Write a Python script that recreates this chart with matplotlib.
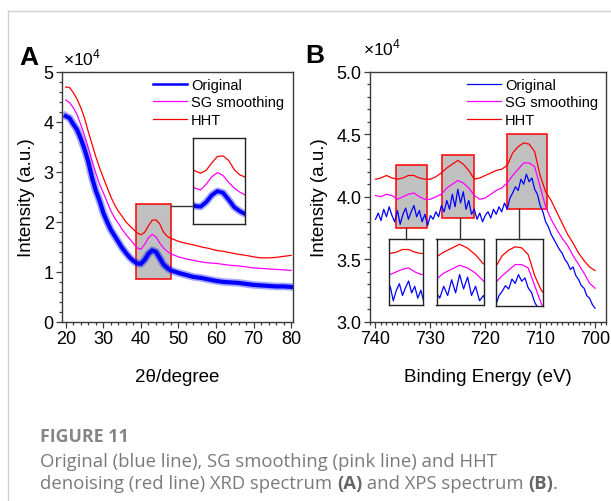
import matplotlib.pyplot as plt
import numpy as np
from matplotlib.lines import Line2D
from matplotlib.patches import Rectangle
from matplotlib.ticker import MultipleLocator, FormatStrFormatter

plt.rcParams['font.family'] = ['Liberation Sans', 'DejaVu Sans']
plt.rcParams['mathtext.fontset'] = 'custom'
plt.rcParams['mathtext.rm'] = 'Liberation Sans'

# ---- XRD spectrum (A), intensity in units of 1e4 ----
xrd_angle = np.concatenate([np.arange(20, 49), np.arange(50, 81, 2)])
xrd_original = [4.11, 4.07, 3.95, 3.84, 3.66, 3.45, 3.20, 2.88, 2.62, 2.42,
                2.18, 2.00, 1.84, 1.72, 1.60, 1.48, 1.38, 1.29, 1.22, 1.17,
                1.16, 1.24, 1.36, 1.43, 1.40, 1.28, 1.15, 1.08, 1.03,
                0.98, 0.94, 0.90, 0.88, 0.85, 0.82, 0.80, 0.79, 0.78, 0.76,
                0.74, 0.73, 0.72, 0.71, 0.71, 0.70]
xrd_sg = [4.43, 4.38, 4.28, 4.14, 3.94, 3.72, 3.48, 3.22, 2.97, 2.75,
          2.58, 2.40, 2.22, 2.08, 1.97, 1.85, 1.75, 1.66, 1.57, 1.48,
          1.45, 1.55, 1.68, 1.75, 1.70, 1.58, 1.48, 1.41, 1.36,
          1.30, 1.26, 1.23, 1.20, 1.18, 1.17, 1.15, 1.13, 1.12, 1.10,
          1.08, 1.07, 1.06, 1.05, 1.04, 1.03]
xrd_hht = [4.69, 4.68, 4.58, 4.45, 4.28, 4.07, 3.80, 3.55, 3.30, 3.08,
           2.88, 2.69, 2.50, 2.34, 2.21, 2.11, 2.00, 1.92, 1.85, 1.78,
           1.74, 1.79, 1.92, 2.03, 2.04, 1.96, 1.80, 1.71, 1.67,
           1.61, 1.57, 1.54, 1.50, 1.47, 1.43, 1.41, 1.38, 1.35, 1.33,
           1.30, 1.28, 1.28, 1.29, 1.31, 1.33]
# zoom window (x0, x1, y0, y1)
xrd_window = (38.7, 47.9, 0.86, 2.35)

# ---- XPS spectrum (B) ----
xps_energy_fine = np.arange(740, 699.9, -0.5)
xps_original = [3.82, 3.87, 3.81, 3.90, 3.84, 3.92, 3.85, 3.80, 3.89, 3.78,
                3.86, 3.91, 3.82, 3.88, 3.93, 3.84, 3.89, 3.80, 3.86, 3.77,
                3.85, 3.82, 3.88, 3.84, 3.93, 3.88, 3.97, 3.90, 4.02, 3.92,
                4.06, 3.95, 4.04, 3.90, 3.97, 3.86, 3.90, 3.82, 3.87, 3.80,
                3.85, 3.88, 3.83, 3.90, 3.86, 3.92, 3.88, 3.95, 3.90, 3.99,
                4.03, 4.08, 4.05, 4.14, 4.10, 4.18, 4.12, 4.15, 4.06, 4.02,
                3.93, 3.88, 3.80, 3.76, 3.70, 3.66, 3.62, 3.58, 3.55, 3.50,
                3.47, 3.42, 3.44, 3.37, 3.34, 3.29, 3.27, 3.21, 3.19, 3.14,
                3.11]
xps_energy = np.arange(740, 699.5, -1)
xps_sg = [4.01, 4.00, 4.02, 4.01, 3.98, 4.00, 4.02, 4.03, 4.00, 3.98,
          3.98, 4.00, 4.02, 4.07, 4.10, 4.13, 4.11, 4.07, 4.01, 3.98,
          3.99, 4.02, 4.05, 4.07, 4.11, 4.17, 4.22, 4.27, 4.27, 4.24,
          4.08, 3.92, 3.82, 3.74, 3.67, 3.61, 3.53, 3.46, 3.39, 3.31,
          3.27]
xps_hht = [4.14, 4.15, 4.17, 4.15, 4.14, 4.15, 4.17, 4.17, 4.15, 4.14,
           4.14, 4.16, 4.19, 4.23, 4.26, 4.29, 4.26, 4.21, 4.14, 4.15,
           4.17, 4.19, 4.21, 4.22, 4.25, 4.35, 4.40, 4.43, 4.42, 4.36,
           4.17, 4.04, 3.97, 3.88, 3.79, 3.70, 3.63, 3.55, 3.49, 3.44,
           3.41]
xps_windows = [(736.2, 730.6, 3.75, 4.25),
               (727.9, 722.0, 3.83, 4.33),
               (716.0, 708.8, 3.90, 4.50)]

BLUE, PINK, RED = '#0000ff', '#ff00ff', '#ff0000'
W, H = 611, 502


def fig_rect(left, top, right, bottom):
    """Pixel box -> figure fraction rect."""
    return [left / W, (H - bottom) / H, (right - left) / W, (bottom - top) / H]


def draw_xrd(ax, lw_blue=3.0):
    # noisy raw pattern: solid core with a soft halo
    ax.plot(xrd_angle, xrd_original, color=BLUE, lw=lw_blue + 2.5, alpha=0.35,
            solid_joinstyle='round')
    ax.plot(xrd_angle, xrd_original, color=BLUE, lw=lw_blue,
            solid_joinstyle='round')
    ax.plot(xrd_angle, xrd_sg, color=PINK, lw=0.9)
    ax.plot(xrd_angle, xrd_hht, color=RED, lw=0.9)


def draw_xps(ax):
    ax.plot(xps_energy_fine, xps_original, color=BLUE, lw=0.9)
    ax.plot(xps_energy, xps_sg, color=PINK, lw=0.9)
    ax.plot(xps_energy, xps_hht, color=RED, lw=0.9)


def add_legend(ax, x_anchor, blue_lw):
    handles = [Line2D([], [], color=BLUE, lw=blue_lw),
               Line2D([], [], color=PINK, lw=0.9),
               Line2D([], [], color=RED, lw=0.9)]
    ax.legend(handles, ['Original', 'SG smoothing', 'HHT'], loc='upper left',
              bbox_to_anchor=(x_anchor, 0.975), frameon=False, fontsize=10.5,
              handlelength=2.3, handletextpad=0.3, labelspacing=0.25,
              borderpad=0, borderaxespad=0)


def style_axes(ax):
    for s in ax.spines.values():
        s.set_color('#3a3a3a')
        s.set_linewidth(1.0)
    ax.tick_params(which='both', direction='out', color='#3a3a3a',
                   labelsize=13, width=0.9, pad=2)
    ax.tick_params(which='major', length=4)
    ax.tick_params(which='minor', length=2.5)


def zoom_box(ax, win):
    x0, x1, y0, y1 = win
    ax.add_patch(Rectangle((min(x0, x1), y0), abs(x1 - x0), y1 - y0,
                           facecolor='#c0c0c0', edgecolor=RED, lw=1.1,
                           zorder=1))


def inset(fig, rect, win, draw, **kw):
    ia = fig.add_axes(rect)
    draw(ia, **kw)
    ia.set_xlim(win[0], win[1])
    ia.set_ylim(win[2], win[3])
    ia.set_xticks([])
    ia.set_yticks([])
    for s in ia.spines.values():
        s.set_color('#222222')
        s.set_linewidth(1.0)
    return ia


fig = plt.figure(figsize=(W / 100, H / 100), dpi=100)

# page frame lines
fig.add_artist(Line2D([8 / W, 8 / W], [0, (H - 12) / H], transform=fig.transFigure,
                      color='#d0d0d0', lw=1))
fig.add_artist(Line2D([8 / W, 1], [(H - 12) / H, (H - 12) / H],
                      transform=fig.transFigure, color='#d0d0d0', lw=1))

# ---- panel A ----
axA = fig.add_axes(fig_rect(62, 72.5, 293, 323))
zoom_box(axA, xrd_window)
draw_xrd(axA)
axA.set_xlim(19, 80.5)
axA.set_ylim(0, 5)
axA.xaxis.set_major_locator(MultipleLocator(10))
axA.xaxis.set_minor_locator(MultipleLocator(2))
axA.yaxis.set_major_locator(MultipleLocator(1))
axA.yaxis.set_minor_locator(MultipleLocator(0.2))
style_axes(axA)
axA.set_xlabel('2θ/degree', fontsize=13.5, labelpad=15)
axA.set_ylabel('Intensity (a.u.)', fontsize=13.5, labelpad=6)
add_legend(axA, 0.394, 1.8)
fig.text(63 / W, (H - 65) / H, r'$\times10^4$', fontsize=12.5)
fig.text(19 / W, (H - 65) / H, 'A', fontsize=19, fontweight='bold')

insA = inset(fig, fig_rect(193.3, 139, 245, 225), xrd_window, draw_xrd,
             lw_blue=2.8)
# connector from zoom window to inset
yconn = (H - 206.5) / H
xstart = fig.transFigure.inverted().transform(
    axA.transData.transform((xrd_window[1], xrd_window[3])))[0]
fig.add_artist(Line2D([xstart, 193.3 / W], [yconn, yconn],
                      transform=fig.transFigure, color='#333333', lw=1))

# ---- panel B ----
axB = fig.add_axes(fig_rect(370, 72.5, 606, 323))
for win in xps_windows:
    zoom_box(axB, win)
draw_xps(axB)
axB.set_xlim(741, 698)
axB.set_ylim(3.0, 5.0)
axB.xaxis.set_major_locator(MultipleLocator(10))
axB.xaxis.set_minor_locator(MultipleLocator(1))
axB.yaxis.set_major_locator(MultipleLocator(0.5))
axB.yaxis.set_minor_locator(MultipleLocator(0.1))
axB.yaxis.set_major_formatter(FormatStrFormatter('%.1f'))
style_axes(axB)
axB.set_xlabel('Binding Energy (eV)', fontsize=13.5, labelpad=15)
axB.set_ylabel('Intensity (a.u.)', fontsize=13.5, labelpad=6)
add_legend(axB, 0.411, 0.9)
fig.text(363 / W, (H - 55) / H, r'$\times10^4$', fontsize=12.5)
fig.text(305 / W, (H - 63) / H, 'B', fontsize=19, fontweight='bold')

inset_px = [(389, 240, 423.3, 305.7),
            (436.5, 240, 483.5, 305.7),
            (495.7, 240, 542.5, 306.7)]
to_fig = fig.transFigure.inverted()
for px, win in zip(inset_px, xps_windows):
    inset(fig, fig_rect(*px), win, draw_xps)
    xc = (px[0] + px[2]) / 2 / W
    ybox = to_fig.transform(axB.transData.transform((win[0], win[2])))[1]
    fig.add_artist(Line2D([xc, xc], [ybox, (H - px[1]) / H],
                          transform=fig.transFigure, color='#333333', lw=1))

# ---- caption ----
cap_font = ['Open Sans', 'DejaVu Sans']
cap_size = 13.3
fig.text(40 / W, (H - 437) / H, 'FIGURE 11', fontsize=12.8, fontweight='bold',
         color='#858585', family=cap_font, va='center')
fig.text(40 / W, (H - 462) / H,
         'Original (blue line), SG smoothing (pink line) and HHT',
         fontsize=cap_size, color='#7a7a7a', family=cap_font, va='center')
parts = [('denoising (red line) XRD spectrum ', 'normal'), ('(A)', 'bold'),
         (' and XPS spectrum ', 'normal'), ('(B)', 'bold'), ('.', 'normal')]
piece = fig.text(40 / W, (H - 484) / H, parts[0][0], fontsize=cap_size,
                 color='#7a7a7a', family=cap_font, va='center')
# the rest of line two is chained after the first piece
for txt, wt in parts[1:]:
    piece = axA.annotate(
        txt, xy=(1, 0), xycoords=piece, va='bottom', ha='left',
        fontsize=cap_size, fontweight=wt,
        color='#666666' if wt == 'bold' else '#7a7a7a', family=cap_font,
        annotation_clip=False)

fig.savefig('out.png', dpi=100)
